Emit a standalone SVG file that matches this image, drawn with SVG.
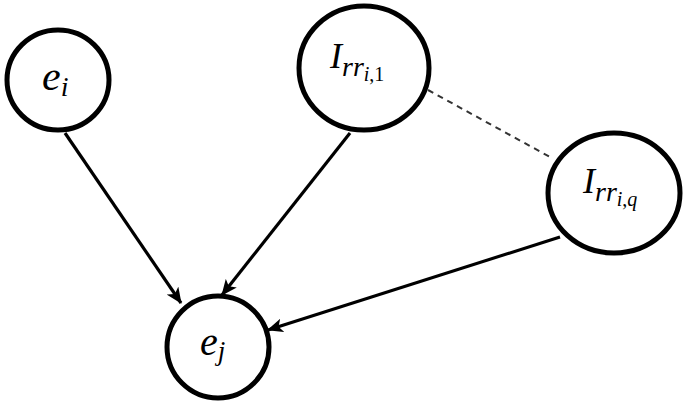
<svg xmlns="http://www.w3.org/2000/svg" width="685" height="401" viewBox="0 0 685 401">
<defs>
<style>
.node{fill:#fff;stroke:#000;stroke-width:5}
.edge{stroke:#000;stroke-width:3.2;fill:none}
.dash{stroke:#333;stroke-width:2;stroke-dasharray:6,5;fill:none}
.t{font-family:"Liberation Serif","DejaVu Serif",serif;font-style:italic;fill:#000}
.up{font-style:normal}
</style>
<marker id="ah" viewBox="0 0 16 14" refX="15" refY="7" markerWidth="16" markerHeight="14" markerUnits="userSpaceOnUse" orient="auto">
<path d="M0,0 L16,7 L0,14 L4,7 Z" fill="#000"/>
</marker>
</defs>
<rect width="685" height="401" fill="#fff"/>
<g id="connectors">
<line class="edge" x1="65" y1="133" x2="181" y2="303" marker-end="url(#ah)"/>
<line class="edge" x1="350" y1="133" x2="222" y2="295" marker-end="url(#ah)"/>
<line class="edge" x1="560" y1="237" x2="268" y2="330" marker-end="url(#ah)"/>
<line class="dash" x1="428" y1="90" x2="550" y2="157"/>
</g>
<g id="e_i">
<ellipse class="node" cx="58" cy="80" rx="51" ry="50"/>
<text class="t" x="42" y="90" font-size="42">e<tspan font-size="28" dy="6">i</tspan></text>
</g>
<g id="I_rr_i1">
<ellipse class="node" cx="364" cy="68" rx="65" ry="62"/>
<text class="t" x="330" y="68" font-size="36">I<tspan font-size="28" dy="8">rr</tspan><tspan font-size="20" dy="5">i<tspan class="up">,1</tspan></tspan></text>
</g>
<g id="I_rr_iq">
<ellipse class="node" cx="614" cy="193" rx="66" ry="60"/>
<text class="t" x="583" y="193" font-size="36">I<tspan font-size="28" dy="8">rr</tspan><tspan font-size="20" dy="5">i<tspan class="up">,</tspan>q</tspan></text>
</g>
<g id="e_j">
<ellipse class="node" cx="218" cy="347" rx="51" ry="51"/>
<text class="t" x="200" y="355" font-size="40">e<tspan font-size="27" dy="5">j</tspan></text>
</g>
</svg>
